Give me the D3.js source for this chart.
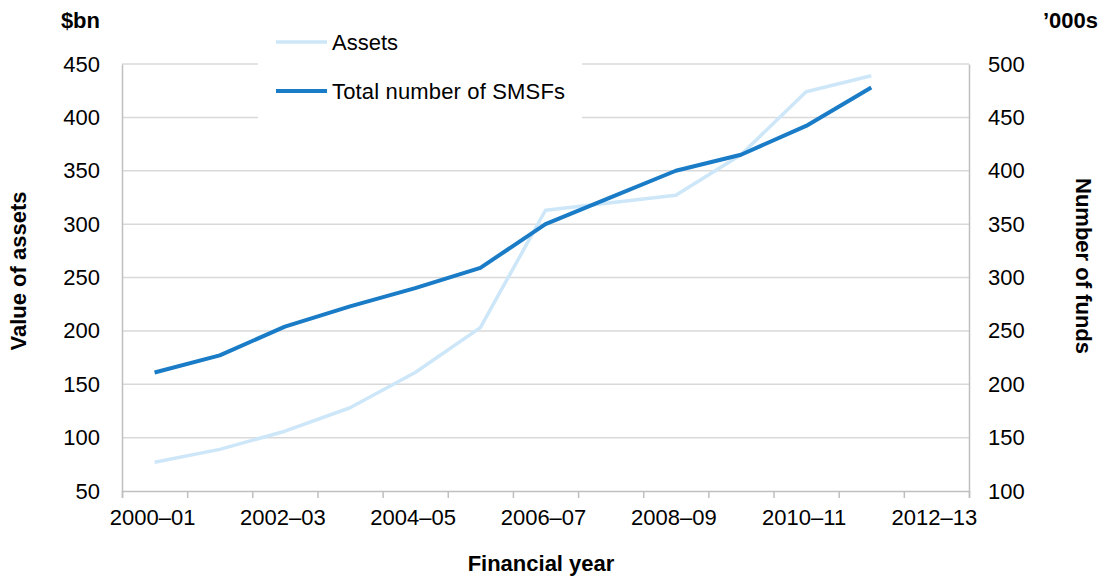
<!DOCTYPE html>
<html><head><meta charset="utf-8">
<script src="https://cdn.jsdelivr.net/npm/d3@7"></script>
<style>
body{margin:0;background:#fff;}
svg text{font-family:"Liberation Sans",Arial,sans-serif;fill:#000;}
</style></head><body>
<svg id="c" width="1102" height="576"></svg>
<script>
const categories = ["2000–01","2001–02","2002–03","2003–04","2004–05","2005–06","2006–07","2007–08","2008–09","2009–10","2010–11","2011–12","2012–13"];
const assets = [77, 89, 106, 128, 161, 203, 313, 320, 327, 365, 424, 439];
const funds = [211, 227, 254, 273, 290, 309, 350, 375, 400, 415, 442, 478];
const leftTicks = [50,100,150,200,250,300,350,400,450];
const rightTicks = [100,150,200,250,300,350,400,450,500];
const xLabels = ["2000–01","2002–03","2004–05","2006–07","2008–09","2010–11","2012–13"];
const seriesNames = ["Assets","Total number of SMSFs"];
const colors = ["#cde7f9","#1a7cc6"];
const widths = [3.5, 4];

const svg = d3.select("#c");
const L = 122, R = 969, T = 64, B = 491;
const fs = 22;

const x = d3.scaleBand().domain(categories).range([L, R]).padding(0);
const xb = d3.scaleLinear().domain([0, categories.length]).range([L, R]);
const yL = d3.scaleLinear().domain([50, 450]).range([B, T]);
const yR = d3.scaleLinear().domain([100, 500]).range([B, T]);

// gridlines
svg.append("g").selectAll("line").data(leftTicks.slice(1)).join("line")
  .attr("x1", L).attr("x2", R).attr("y1", d => yL(d)).attr("y2", d => yL(d))
  .attr("stroke", "#d9d9d9").attr("stroke-width", 1.5);

// left axis
const gl = svg.append("g").attr("transform", `translate(${L},0)`)
  .call(d3.axisLeft(yL).tickValues(leftTicks).tickSize(0).tickPadding(22));
gl.select(".domain").attr("stroke", "#bfbfbf").attr("stroke-width", 1.5);
gl.selectAll("text").style("font-size", fs + "px");

// right axis
const gr = svg.append("g").attr("transform", `translate(${R},0)`)
  .call(d3.axisRight(yR).tickValues(rightTicks).tickSize(0).tickPadding(19));
gr.select(".domain").attr("stroke", "#bfbfbf").attr("stroke-width", 1.5);
gr.selectAll("text").style("font-size", fs + "px");

// bottom axis: tick marks at band edges
const gb = svg.append("g").attr("transform", `translate(0,${B})`)
  .call(d3.axisBottom(xb).tickValues(d3.range(categories.length + 1)).tickSize(7).tickFormat(""));
gb.select(".domain").attr("stroke", "#bfbfbf").attr("stroke-width", 1.5);
gb.selectAll(".tick line").attr("stroke", "#bfbfbf").attr("stroke-width", 1.5);

// bottom labels at band centres
const gbl = svg.append("g").attr("transform", `translate(-2,${B})`)
  .call(d3.axisBottom(x).tickValues(xLabels).tickSize(0).tickPadding(18));
gbl.select(".domain").remove();
gbl.selectAll("text").style("font-size", fs + "px");

// legend box
svg.append("rect").attr("x", 258).attr("y", 20).attr("width", 324).attr("height", 104).attr("fill", "#fff");
const leg = svg.append("g");
seriesNames.forEach((n, i) => {
  const yy = 42 + i * 49;
  leg.append("line").attr("x1", 276).attr("x2", 327).attr("y1", yy).attr("y2", yy)
    .attr("stroke", colors[i]).attr("stroke-width", widths[i]);
  leg.append("text").attr("x", 332).attr("y", yy + 7.5).style("font-size", fs + "px")
    .attr("textLength", i === 1 ? 233 : null).text(n);
});

// lines
const cx = d => x(d) + x.bandwidth() / 2;
const la = d3.line().x((d, i) => cx(categories[i])).y(d => yL(d));
const lf = d3.line().x((d, i) => cx(categories[i])).y(d => yR(d));
svg.append("path").datum(assets).attr("d", la).attr("fill", "none")
  .attr("stroke", colors[0]).attr("stroke-width", widths[0]).attr("stroke-linejoin", "round");
svg.append("path").datum(funds).attr("d", lf).attr("fill", "none")
  .attr("stroke", colors[1]).attr("stroke-width", widths[1]).attr("stroke-linejoin", "round");

// axis unit labels
svg.append("text").attr("x", 100).attr("y", 28).attr("text-anchor", "end")
  .style("font-size", fs + "px").style("font-weight", "bold").text("$bn");
svg.append("text").attr("x", 1098).attr("y", 28).attr("text-anchor", "end")
  .style("font-size", fs + "px").style("font-weight", "bold").text("’000s");

// axis titles
svg.append("text").attr("transform", "translate(26,271) rotate(-90)").attr("text-anchor", "middle")
  .style("font-size", fs + "px").style("font-weight", "bold").text("Value of assets");
svg.append("text").attr("transform", "translate(1076,266) rotate(90)").attr("text-anchor", "middle")
  .style("font-size", fs + "px").style("font-weight", "bold").text("Number of funds");
svg.append("text").attr("x", 541).attr("y", 571).attr("text-anchor", "middle")
  .style("font-size", fs + "px").style("font-weight", "bold").text("Financial year");
</script>
</body></html>
